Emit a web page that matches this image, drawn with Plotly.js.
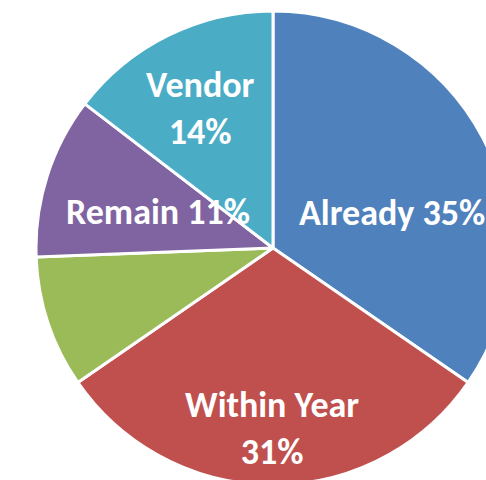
<!DOCTYPE html>
<html>
<head>
<meta charset="utf-8">
<script src="https://cdn.plot.ly/plotly-3.0.1.min.js"></script>
<style>
  html, body { margin:0; padding:0; width:486px; height:480px; overflow:hidden; background:#fff; }
  #chart { position:absolute; left:36px; top:11px; width:474px; height:474px; }
</style>
</head>
<body>
<div id="chart"></div>
<script>
var categories = ["Already", "Within Year", "Other", "Remain", "Vendor"];
var shares = [34.6, 30.8, 9.0, 11.0, 14.6];
var shownPct = ["35%", "31%", "", "11%", "14%"];
var colors = ["#4F81BD", "#C0504D", "#9BBB59", "#8064A2", "#4BACC6"];

var labelFont = {family: "Carlito, Calibri, Lato, 'Open Sans', sans-serif", size: 36, color: "#ffffff", weight: 700};

var trace = {
  type: "pie",
  labels: categories,
  values: shares,
  sort: false,
  direction: "clockwise",
  rotation: 0,
  marker: {colors: colors, line: {color: "#ffffff", width: 3}},
  textinfo: "none",
  hoverinfo: "label+percent",
  showlegend: false,
  domain: {x: [0, 1], y: [0, 1]}
};

var annotations = [
  {text: "<b>" + categories[0] + " " + shownPct[0] + "</b>", x: 0.55, y: 0.574, xanchor: "left", yanchor: "middle"},
  {text: "<b>" + categories[1] + "<br>" + shownPct[1] + "</b>", x: 0.498, y: 0.120, xanchor: "center", yanchor: "middle"},
  {text: "<b>" + categories[3] + " " + shownPct[3] + "</b>", x: 0.06, y: 0.576, xanchor: "left", yanchor: "middle"},
  {text: "<b>" + categories[4] + "<br>" + shownPct[4] + "</b>", x: 0.346, y: 0.795, xanchor: "center", yanchor: "middle"}
].map(function(a){
  a.xref = "paper"; a.yref = "paper"; a.showarrow = false; a.font = labelFont; a.align = "center";
  return a;
});

var layout = {
  width: 474, height: 474,
  margin: {l:0, r:0, t:0, b:0, pad:0},
  paper_bgcolor: "rgba(0,0,0,0)",
  plot_bgcolor: "rgba(0,0,0,0)",
  annotations: annotations,
  showlegend: false
};

Plotly.newPlot("chart", [trace], layout, {displayModeBar: false, staticPlot: true});
</script>
</body>
</html>
